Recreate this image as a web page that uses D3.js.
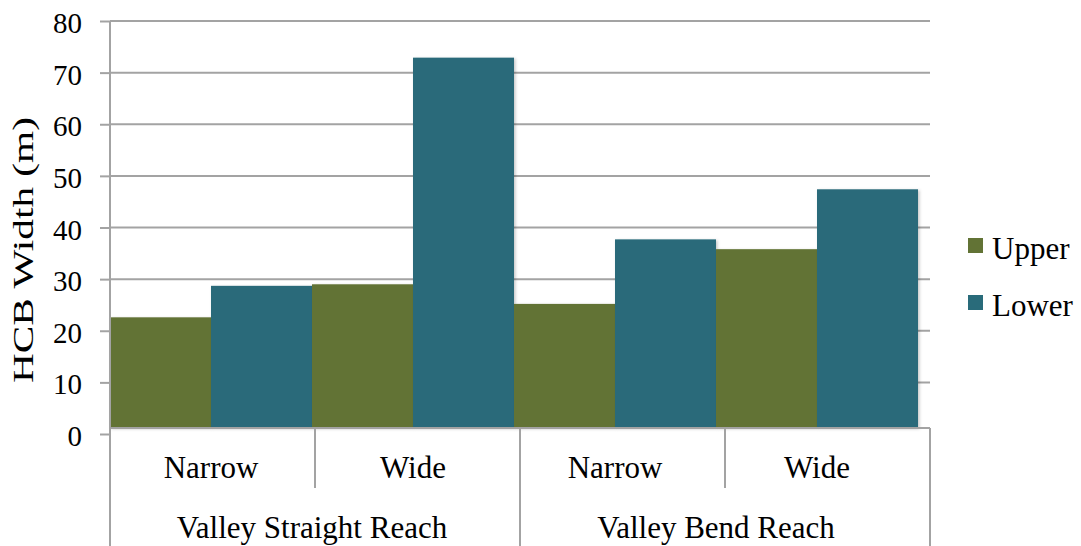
<!DOCTYPE html>
<html>
<head>
<meta charset="utf-8">
<script src="https://cdn.jsdelivr.net/npm/d3@7"></script>
<style>
  html, body { margin: 0; padding: 0; background: #fff; }
  svg { display: block; }
  text { font-family: "Liberation Serif", Tinos, "Times New Roman", Times, "DejaVu Serif", "Noto Serif", serif; fill: #000; }
</style>
</head>
<body>
<svg id="chart" width="1081" height="546"></svg>
<script>
// Horizontal channel bar (HCB) width by reach and valley type
const reachGroups = ["Valley Straight Reach", "Valley Bend Reach"];
const widthClasses = ["Narrow", "Wide"];
const categories = ["Straight-Narrow", "Straight-Wide", "Bend-Narrow", "Bend-Wide"];
const series = ["Upper", "Lower"];
const upperValues = [22.6, 29.0, 25.2, 35.8];
const lowerValues = [28.7, 72.9, 37.7, 47.4];
const yTicks = [0, 10, 20, 30, 40, 50, 60, 70, 80];
const colors = { Upper: "#627335", Lower: "#296b7a" };

const svg = d3.select("#chart");
const plotLeft = 110, plotRight = 930, plotTop = 21, plotBottom = 434;
const labelSize = 31;
const tickSize = 29;

const y = d3.scaleLinear().domain([0, 80]).range([plotBottom, plotTop]);
const baseY = y(0) - 6;          // category axis baseline
const barsRight = 918;

// bars are packed side by side; category cells span the full plot width
const x0 = d3.scaleBand().domain(categories).range([plotLeft, barsRight]).padding(0);
const x1 = d3.scaleBand().domain(series).range([0, x0.bandwidth()]).padding(0);
const xCell = d3.scaleBand().domain(categories).range([plotLeft, plotRight]).padding(0);

const defs = svg.append("defs");
const shadow = defs.append("filter").attr("id", "shadow")
  .attr("x", "-10%").attr("y", "-10%").attr("width", "130%").attr("height", "130%");
shadow.append("feDropShadow").attr("dx", 1.5).attr("dy", 1).attr("stdDeviation", 1.5)
  .attr("flood-color", "#000").attr("flood-opacity", 0.22);

// gridlines
svg.append("g").selectAll("line").data(yTicks.filter(d => d > 0)).join("line")
  .attr("x1", plotLeft).attr("x2", plotRight)
  .attr("y1", d => y(d)).attr("y2", d => y(d))
  .attr("stroke", "#a3a3a3").attr("stroke-width", 2);

// y axis with ticks to the left
const yAxis = d3.axisLeft(y).tickValues(yTicks).tickSize(10).tickPadding(18);
const gy = svg.append("g").attr("transform", `translate(${plotLeft},0)`).call(yAxis);
gy.attr("font-family", null).attr("font-size", null);
gy.select(".domain").remove();
gy.selectAll(".tick line").attr("stroke", "#a3a3a3").attr("stroke-width", 2);
gy.selectAll(".tick text").attr("font-size", tickSize).attr("dy", "0.4em").attr("fill", "#000");

// bars
const data = categories.map((c, i) => ({ cat: c, Upper: upperValues[i], Lower: lowerValues[i] }));
const groups = svg.append("g").selectAll("g").data(data).join("g")
  .attr("transform", d => `translate(${x0(d.cat)},0)`);
groups.selectAll("rect").data(d => series.map(s => ({ s, v: d[s] }))).join("rect")
  .attr("x", d => x1(d.s)).attr("width", x1.bandwidth())
  .attr("y", d => y(d.v)).attr("height", d => baseY - y(d.v))
  .attr("fill", d => colors[d.s])
  .attr("filter", "url(#shadow)");

// axis frame
const axisColor = "#a3a3a3";
const frame = svg.append("g").attr("stroke", axisColor).attr("stroke-width", 2);
frame.append("line").attr("x1", plotLeft).attr("x2", plotLeft).attr("y1", plotTop).attr("y2", 546);
frame.append("line").attr("x1", plotLeft).attr("x2", plotRight).attr("y1", baseY).attr("y2", baseY);
// separators between width classes (short) and reach groups (long)
frame.selectAll("line.sep").data(categories.slice(1).concat(["end"])).join("line")
  .attr("class", "sep")
  .attr("x1", (d, i) => i === 3 ? plotRight : xCell(d))
  .attr("x2", (d, i) => i === 3 ? plotRight : xCell(d))
  .attr("y1", baseY)
  .attr("y2", (d, i) => (i % 2 === 1) ? 546 : 488);

// width class labels
svg.append("g").selectAll("text").data(categories).join("text")
  .attr("x", d => x0(d) + x0.bandwidth() / 2)
  .attr("y", 478)
  .attr("text-anchor", "middle").attr("font-size", labelSize)
  .text((d, i) => widthClasses[i % 2]);

// reach group labels
svg.append("g").selectAll("text").data(reachGroups).join("text")
  .attr("x", (d, i) => x0(categories[i * 2]) + x0.bandwidth())
  .attr("y", 538)
  .attr("text-anchor", "middle").attr("font-size", labelSize)
  .text(d => d);

// y axis title (drawn elongated along its reading direction)
svg.append("text")
  .attr("transform", `translate(33,250) rotate(-90)`)
  .attr("text-anchor", "middle").attr("font-size", 30)
  .attr("textLength", 266).attr("lengthAdjust", "spacingAndGlyphs")
  .text("HCB Width (m)");

// legend
const legend = svg.append("g").selectAll("g").data(series).join("g")
  .attr("transform", (d, i) => `translate(968,${238 + i * 57})`);
legend.append("rect").attr("width", 15).attr("height", 15).attr("fill", d => colors[d]);
legend.append("text").attr("x", 24).attr("y", 21).attr("font-size", labelSize).text(d => d);
</script>
</body>
</html>
